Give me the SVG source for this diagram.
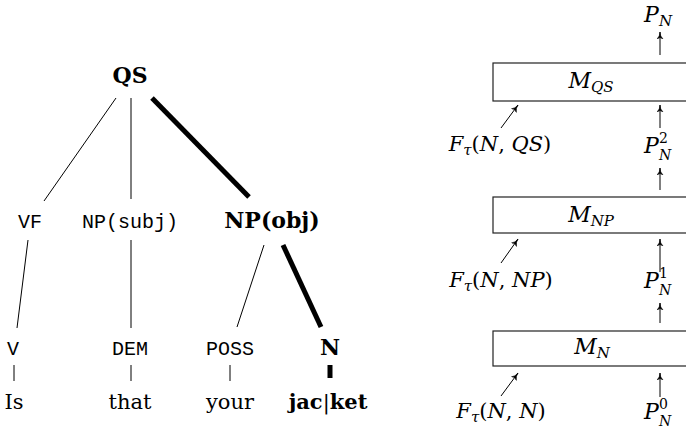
<svg xmlns="http://www.w3.org/2000/svg" width="686" height="432" viewBox="0 0 686 432">
<defs>
<style>
.bg{fill:#fff}
.rm{font-family:"DejaVu Serif","Liberation Serif",serif;font-size:21px;fill:#000}
.bf{font-family:"DejaVu Serif","Liberation Serif",serif;font-size:22px;font-weight:bold;fill:#000}
.tt{font-family:"Liberation Mono","DejaVu Sans Mono",monospace;font-size:20px;fill:#000}
.mi{font-family:"DejaVu Serif","Liberation Serif",serif;font-size:21px;font-style:italic;fill:#000}
.mu{font-family:"DejaVu Serif","Liberation Serif",serif;font-size:21px;fill:#000}
.big{font-size:22px}
.sm{font-size:15px}
.xs{font-size:14px}
.thin{stroke:#000;stroke-width:1;fill:none}
.thick{stroke:#000;stroke-width:5;fill:none}
.box{fill:#fff;stroke:#222;stroke-width:1.2}
.arr{stroke:#000;stroke-width:1;fill:none;marker-end:url(#ah)}
</style>
<marker id="ah" markerUnits="userSpaceOnUse" markerWidth="8" markerHeight="8" refX="7" refY="3.5" orient="auto">
<path d="M0,0.5 Q3,3.5 7,3.5 Q3,3.5 0,6.5 L1.5,3.5 Z" fill="#000" stroke="#000" stroke-width="0.5"/>
</marker>
</defs>
<rect class="bg" x="0" y="0" width="686" height="432"/>

<g id="edges">
<line class="thin" x1="116" y1="98" x2="44" y2="201"/>
<line class="thin" x1="131" y1="98" x2="131" y2="199"/>
<line class="thick" x1="152" y1="98" x2="249" y2="197"/>
<line class="thin" x1="28" y1="240" x2="17" y2="328"/>
<line class="thin" x1="131" y1="240" x2="131" y2="328"/>
<line class="thin" x1="264" y1="245" x2="237" y2="327"/>
<line class="thick" x1="283" y1="245" x2="321" y2="327"/>
<line class="thin" x1="14" y1="365" x2="14" y2="381"/>
<line class="thin" x1="131" y1="365" x2="131" y2="381"/>
<line class="thin" x1="230" y1="365" x2="230" y2="381"/>
<line class="thick" x1="330" y1="365" x2="330" y2="378"/>
</g>

<g id="node-QS"><text class="bf" x="130" y="83" text-anchor="middle">QS</text></g>
<g id="node-VF"><text class="tt" x="30" y="228" text-anchor="middle">VF</text></g>
<g id="node-NPsubj"><text class="tt" x="130" y="228" text-anchor="middle">NP(subj)</text></g>
<g id="node-NPobj"><text class="bf" x="272" y="228" text-anchor="middle">NP(obj)</text></g>
<g id="node-V"><text class="tt" x="13" y="355" text-anchor="middle">V</text></g>
<g id="node-DEM"><text class="tt" x="130" y="355" text-anchor="middle">DEM</text></g>
<g id="node-POSS"><text class="tt" x="230" y="355" text-anchor="middle">POSS</text></g>
<g id="node-N"><text class="bf" x="330" y="355" text-anchor="middle">N</text></g>
<g id="word-Is"><text class="rm" x="14" y="409" text-anchor="middle">Is</text></g>
<g id="word-that"><text class="rm" x="130" y="409" text-anchor="middle">that</text></g>
<g id="word-your"><text class="rm" x="230" y="409" text-anchor="middle">your</text></g>
<g id="word-jacket"><text class="rm" x="328" y="409" text-anchor="middle"><tspan font-weight="bold">jac</tspan>|<tspan font-weight="bold">ket</tspan></text></g>

<g id="box-MQS">
<rect class="box" x="493" y="63" width="200" height="38"/>
<text class="mi big" x="591" y="88" text-anchor="middle">M<tspan class="sm" dy="4">QS</tspan></text>
</g>
<g id="box-MNP">
<rect class="box" x="493" y="197" width="200" height="36"/>
<text class="mi big" x="591" y="222" text-anchor="middle">M<tspan class="sm" dy="4">NP</tspan></text>
</g>
<g id="box-MN">
<rect class="box" x="493" y="331" width="200" height="35"/>
<text class="mi big" x="592" y="354" text-anchor="middle">M<tspan class="sm" dy="4">N</tspan></text>
</g>

<g id="label-PN">
<text class="mi big" x="644" y="22">P</text><text class="mi sm" x="659" y="26">N</text>
</g>
<g id="label-PN2">
<text class="mi big" x="644" y="153">P</text><text class="mu xs" x="659" y="143">2</text><text class="mi xs" x="659" y="160">N</text>
</g>
<g id="label-PN1">
<text class="mi big" x="644" y="288">P</text><text class="mu xs" x="659" y="278">1</text><text class="mi xs" x="659" y="295">N</text>
</g>
<g id="label-PN0">
<text class="mi big" x="644" y="419">P</text><text class="mu xs" x="659" y="409">0</text><text class="mi xs" x="659" y="426">N</text>
</g>

<g id="label-FQS">
<text class="mu" x="500" y="151" text-anchor="middle"><tspan font-style="italic">F</tspan><tspan class="sm" font-style="italic" dy="4">τ</tspan><tspan dy="-4">(</tspan><tspan font-style="italic">N</tspan>, <tspan font-style="italic">QS</tspan>)</text>
</g>
<g id="label-FNP">
<text class="mu" x="501" y="287" text-anchor="middle"><tspan font-style="italic">F</tspan><tspan class="sm" font-style="italic" dy="4">τ</tspan><tspan dy="-4">(</tspan><tspan font-style="italic">N</tspan>, <tspan font-style="italic">NP</tspan>)</text>
</g>
<g id="label-FN">
<text class="mu" x="501" y="418" text-anchor="middle"><tspan font-style="italic">F</tspan><tspan class="sm" font-style="italic" dy="4">τ</tspan><tspan dy="-4">(</tspan><tspan font-style="italic">N</tspan>, <tspan font-style="italic">N</tspan>)</text>
</g>

<g id="arrows">
<line class="arr" x1="660" y1="55" x2="660" y2="32"/>
<line class="arr" x1="660" y1="128" x2="660" y2="105"/>
<line class="arr" x1="660" y1="190" x2="660" y2="168"/>
<line class="arr" x1="660" y1="272" x2="660" y2="239"/>
<line class="arr" x1="660" y1="323" x2="660" y2="303"/>
<line class="arr" x1="660" y1="397" x2="660" y2="373"/>
<line class="arr" x1="501" y1="128" x2="518" y2="105"/>
<line class="arr" x1="501" y1="263" x2="518" y2="239"/>
<line class="arr" x1="501" y1="396" x2="518" y2="373"/>
</g>
</svg>
